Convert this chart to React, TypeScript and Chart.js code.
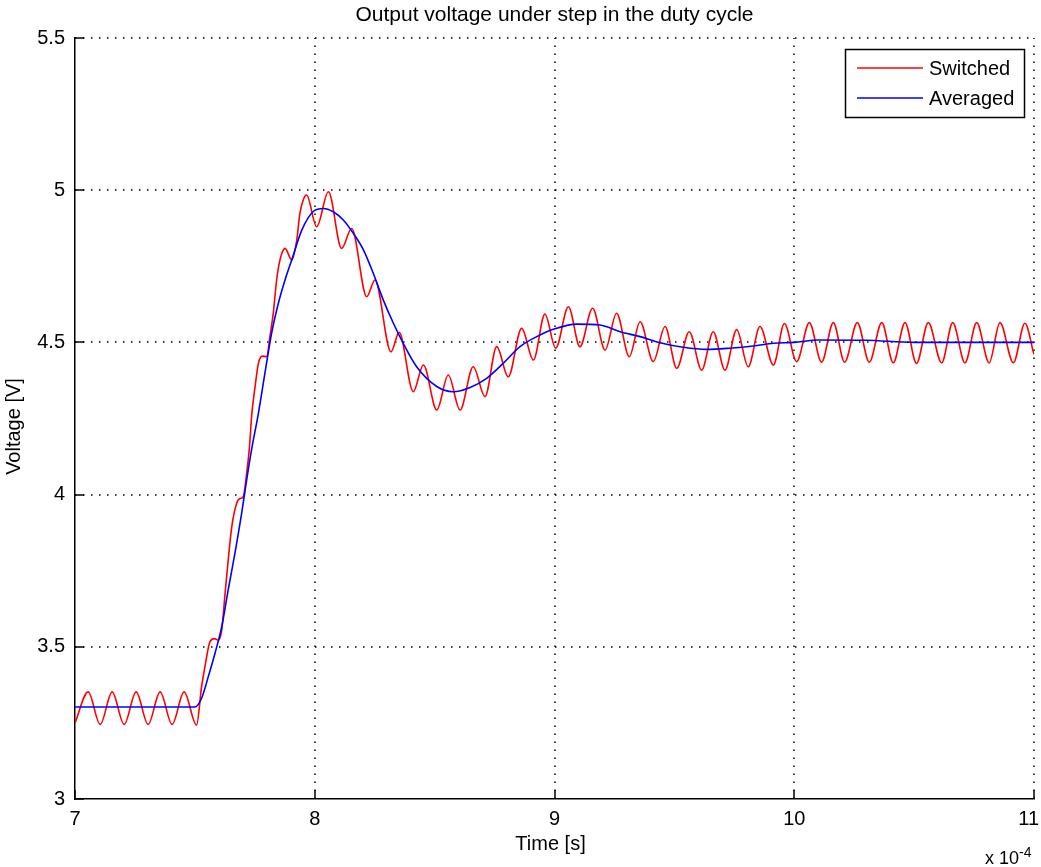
import React, { useEffect, useRef } from "react";
import { Chart, registerables } from "chart.js";

Chart.register(...registerables);

const TITLE = "Output voltage under step in the duty cycle";
const X_LABEL = "Time [s]";
const Y_LABEL = "Voltage [V]";
const X_MULT = "x 10";
const X_EXPONENT = "-4";
const X_TICKS = [7, 8, 9, 10, 11];
const Y_TICKS = [3, 3.5, 4, 4.5, 5, 5.5];
const SERIES_NAMES = ["Switched", "Averaged"];
const SERIES_COLORS = ["#ff0000", "#0000ff"];

// time in units of 1e-4 s
const switchedT = [
  7.0, 7.055, 7.105, 7.155, 7.205, 7.255, 7.305, 7.355, 7.405, 7.455, 7.507,
  7.528, 7.542, 7.563, 7.581, 7.598, 7.612, 7.626, 7.639, 7.654, 7.674, 7.688,
  7.702, 7.716, 7.727, 7.737, 7.751, 7.765, 7.781, 7.8, 7.813, 7.827, 7.841,
  7.855, 7.876, 7.904, 7.925, 7.938, 7.952, 7.966, 8.008, 8.057, 8.112, 8.154,
  8.217, 8.251, 8.318, 8.352, 8.411, 8.453, 8.509, 8.557, 8.606, 8.661, 8.71,
  8.759, 8.807, 8.863, 8.912, 8.96, 9.005, 9.058, 9.106, 9.159, 9.211, 9.259,
  9.312, 9.357, 9.412, 9.461, 9.51, 9.562, 9.614, 9.662, 9.711, 9.76, 9.808,
  9.857, 9.913, 9.959, 10.01, 10.063, 10.114, 10.163, 10.21, 10.263, 10.313,
  10.365, 10.413, 10.462, 10.51, 10.559, 10.615, 10.661, 10.712, 10.761,
  10.813, 10.858, 10.914, 10.962, 11.0,
];
const switchedV = [
  3.25, 3.352, 3.245, 3.352, 3.245, 3.352, 3.245, 3.352, 3.245, 3.352, 3.243,
  3.369, 3.435, 3.517, 3.527, 3.522, 3.555, 3.676, 3.785, 3.895, 3.971, 3.987,
  3.993, 4.07, 4.15, 4.26, 4.354, 4.431, 4.455, 4.453, 4.519, 4.596, 4.705,
  4.771, 4.809, 4.771, 4.836, 4.924, 4.968, 4.984, 4.88, 4.995, 4.809, 4.874,
  4.65, 4.705, 4.469, 4.533, 4.338, 4.426, 4.278, 4.393, 4.278, 4.42, 4.322,
  4.486, 4.387, 4.546, 4.442, 4.593, 4.481, 4.617, 4.486, 4.612, 4.475, 4.596,
  4.453, 4.568, 4.437, 4.552, 4.415, 4.535, 4.409, 4.535, 4.409, 4.542, 4.42,
  4.552, 4.426, 4.562, 4.437, 4.565, 4.435, 4.565, 4.435, 4.565, 4.435,
  4.565, 4.433, 4.565, 4.431, 4.565, 4.433, 4.565, 4.433, 4.565,
  4.433, 4.565, 4.433, 4.563, 4.46,
];

const averagedT = [
  7.0, 7.5, 7.528, 7.556, 7.584, 7.612, 7.639, 7.667, 7.695, 7.716, 7.737,
  7.765, 7.792, 7.82, 7.848, 7.876, 7.904, 7.946, 7.994, 8.036, 8.077, 8.119,
  8.161, 8.203, 8.244, 8.286, 8.328, 8.369, 8.425, 8.509, 8.578, 8.648, 8.717,
  8.786, 8.856, 8.926, 8.995, 9.093, 9.19, 9.273, 9.357, 9.44, 9.537, 9.635,
  9.732, 9.829, 9.913, 10.0, 10.1, 10.3, 10.5, 11.0,
];
const averagedV = [
  3.302, 3.302, 3.331, 3.402, 3.479, 3.566, 3.687, 3.807, 3.938, 4.048, 4.15,
  4.267, 4.398, 4.53, 4.628, 4.705, 4.771, 4.869, 4.93, 4.94, 4.929, 4.902,
  4.858, 4.804, 4.727, 4.639, 4.563, 4.497, 4.42, 4.355, 4.338, 4.352, 4.382,
  4.431, 4.486, 4.519, 4.543, 4.56, 4.557, 4.535, 4.519, 4.499, 4.484, 4.477,
  4.481, 4.488, 4.497, 4.5, 4.508, 4.507, 4.5, 4.5,
];

const FONT = '"Liberation Sans", Arial, sans-serif';

const matlabPlugin = {
  id: "matlabDecor",
  beforeDatasetsDraw(chart: any) {
    const { ctx, chartArea: a, scales } = chart;
    const xs = scales.x;
    const ys = scales.y;
    ctx.save();
    // dotted grid
    ctx.strokeStyle = "#000";
    ctx.lineWidth = 1.5;
    ctx.setLineDash([1.5, 6.5]);
    X_TICKS.forEach((v, i) => {
      if (i === 0) return;
      const px = Math.round(xs.getPixelForValue(v));
      ctx.beginPath();
      ctx.moveTo(px, a.bottom);
      ctx.lineTo(px, a.top);
      ctx.stroke();
    });
    Y_TICKS.forEach((v, i) => {
      if (i === 0) return;
      const py = Math.round(ys.getPixelForValue(v));
      ctx.beginPath();
      ctx.moveTo(a.left, py);
      ctx.lineTo(a.right, py);
      ctx.stroke();
    });
    // inward tick marks
    ctx.setLineDash([]);
    ctx.lineWidth = 1.5;
    X_TICKS.forEach((v) => {
      const px = Math.round(xs.getPixelForValue(v));
      ctx.beginPath();
      ctx.moveTo(px, a.bottom);
      ctx.lineTo(px, a.bottom - 9);
      ctx.stroke();
    });
    Y_TICKS.forEach((v) => {
      const py = Math.round(ys.getPixelForValue(v));
      ctx.beginPath();
      ctx.moveTo(a.left, py);
      ctx.lineTo(a.left + 9, py);
      ctx.stroke();
    });
    ctx.restore();
  },
  afterDraw(chart: any) {
    const { ctx, chartArea: a, scales } = chart;
    const W = chart.width;
    ctx.save();
    ctx.fillStyle = "#000";
    // x tick labels
    ctx.font = `20px ${FONT}`;
    ctx.textAlign = "center";
    ctx.textBaseline = "middle";
    X_TICKS.forEach((v) => {
      const label = String(v);
      const w = ctx.measureText(label).width;
      let px = scales.x.getPixelForValue(v);
      if (px + w / 2 > W - 2) px = W - 2 - w / 2;
      ctx.fillText(label, px, 819);
    });
    // title
    ctx.font = `21px ${FONT}`;
    ctx.fillText(TITLE, (a.left + a.right) / 2, 15);
    // x label
    ctx.font = `20px ${FONT}`;
    ctx.fillText(X_LABEL, (a.left + a.right) / 2 - 4, 844);
    // y label
    ctx.save();
    ctx.translate(14, (a.top + a.bottom) / 2 + 8);
    ctx.rotate(-Math.PI / 2);
    ctx.fillText(Y_LABEL, 0, 0);
    ctx.restore();
    // exponent
    ctx.textAlign = "right";
    ctx.textBaseline = "alphabetic";
    ctx.font = `18px ${FONT}`;
    ctx.fillText(X_MULT, 1019, 864);
    ctx.textAlign = "left";
    ctx.font = `14px ${FONT}`;
    ctx.fillText(X_EXPONENT, 1019, 857);

    // legend
    const bx = 845.5, by = 49.5, bw = 179, bh = 68;
    ctx.fillStyle = "#fff";
    ctx.fillRect(bx, by, bw, bh);
    ctx.strokeStyle = "#000";
    ctx.lineWidth = 1.5;
    ctx.strokeRect(bx, by, bw, bh);
    const rows = [68, 98];
    SERIES_NAMES.forEach((name, i) => {
      ctx.strokeStyle = SERIES_COLORS[i];
      ctx.lineWidth = 1.5;
      ctx.beginPath();
      ctx.moveTo(857, rows[i]);
      ctx.lineTo(923, rows[i]);
      ctx.stroke();
      ctx.fillStyle = "#000";
      ctx.font = `20px ${FONT}`;
      ctx.textAlign = "left";
      ctx.textBaseline = "middle";
      ctx.fillText(name, 929, rows[i] + 1);
    });
    ctx.restore();
  },
};

export default function App() {
  const ref = useRef<HTMLCanvasElement | null>(null);
  useEffect(() => {
    if (!ref.current) return;
    const switched = switchedT.map((t, i) => ({ x: t, y: switchedV[i] }));
    const averaged = averagedT.map((t, i) => ({ x: t, y: averagedV[i] }));
    const chart = new Chart(ref.current, {
      type: "line",
      data: {
        datasets: [
          {
            label: SERIES_NAMES[0],
            data: switched,
            borderColor: SERIES_COLORS[0],
            backgroundColor: SERIES_COLORS[0],
            borderWidth: 1.6,
            pointRadius: 0,
            cubicInterpolationMode: "monotone",
            order: 1,
          },
          {
            label: SERIES_NAMES[1],
            data: averaged,
            borderColor: SERIES_COLORS[1],
            backgroundColor: SERIES_COLORS[1],
            borderWidth: 1.6,
            pointRadius: 0,
            cubicInterpolationMode: "monotone",
            order: 0,
          },
        ],
      },
      options: {
        animation: false,
        responsive: false,
        devicePixelRatio: 1,
        layout: { padding: { top: 38, right: 7, bottom: 0, left: 0 } },
        plugins: {
          legend: { display: false },
          title: { display: false },
          tooltip: { enabled: false },
        },
        scales: {
          x: {
            type: "linear",
            min: X_TICKS[0],
            max: X_TICKS[X_TICKS.length - 1],
            afterBuildTicks: (s: any) => {
              s.ticks = X_TICKS.map((v) => ({ value: v }));
            },
            afterFit: (s: any) => {
              s.height = 68;
              s.paddingLeft = 0;
              s.paddingRight = 0;
            },
            grid: { display: false, drawTicks: false },
            border: { display: true, color: "#000", width: 1.5 },
            ticks: { display: false },
          },
          y: {
            type: "linear",
            min: Y_TICKS[0],
            max: Y_TICKS[Y_TICKS.length - 1],
            afterBuildTicks: (s: any) => {
              s.ticks = Y_TICKS.map((v) => ({ value: v }));
            },
            afterFit: (s: any) => {
              s.width = 75;
              s.paddingTop = 0;
              s.paddingBottom = 0;
            },
            grid: { display: false, drawTicks: false },
            border: { display: true, color: "#000", width: 1.5 },
            ticks: {
              color: "#000",
              padding: 10,
              font: { family: FONT, size: 20 },
              callback: (v: any) => String(v),
            },
          },
        },
      },
      plugins: [matlabPlugin],
    });
    return () => chart.destroy();
  }, []);
  return (
    <div style={{ position: "fixed", left: 0, top: 0, width: 1041, height: 867, background: "#fff" }}>
      <canvas ref={ref} width={1041} height={867} style={{ display: "block" }} />
    </div>
  );
}
